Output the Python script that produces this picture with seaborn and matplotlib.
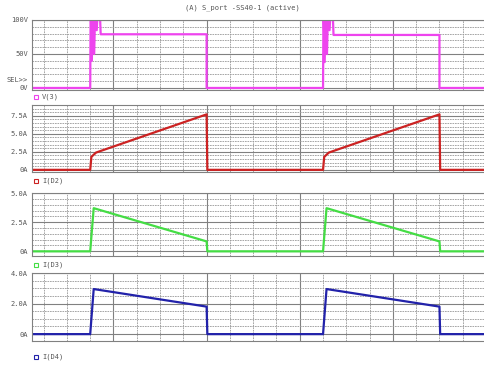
import numpy as np
import pandas as pd
import seaborn as sns
import matplotlib.pyplot as plt
from matplotlib.lines import Line2D

# time axis in grid divisions (1 division = 1 minor grid step)
t_v3 = [0.5, 3.0, 3.02, 3.07, 3.12, 3.17, 3.22, 3.28, 3.34, 3.4, 3.45, 8.0, 8.0,
        13.0, 13.02, 13.07, 13.12, 13.17, 13.22, 13.28, 13.34, 13.4, 13.45, 18.0, 18.0, 20.6]
v3 = [0, 0, 125, 40, 125, 50, 125, 85, 125, 125, 79, 79, 0,
      0, 125, 38, 125, 50, 125, 85, 125, 125, 78, 78, 0, 0]

t_d2 = [0.5, 3.0, 3.05, 3.25, 8.0, 8.03, 13.0, 13.05, 13.25, 18.0, 18.03, 20.6]
i_d2 = [0, 0, 1.8, 2.4, 7.7, 0, 0, 1.8, 2.4, 7.7, 0, 0]

t_d3 = [0.5, 3.0, 3.15, 8.0, 8.03, 13.0, 13.15, 18.0, 18.03, 20.6]
i_d3 = [0, 0, 3.7, 0.85, 0, 0, 3.7, 0.85, 0, 0]

t_d4 = [0.5, 3.0, 3.15, 8.0, 8.03, 13.0, 13.15, 18.0, 18.03, 20.6]
i_d4 = [0, 0, 2.95, 1.8, 0, 0, 2.95, 1.8, 0, 0]

names = ['V(3)', 'I(D2)', 'I(D3)', 'I(D4)']
colors = ['#ee44ee', '#cc2222', '#44dd44', '#2222aa']
yticks = [[0, 12.5, 50, 100], [0, 2.5, 5.0, 7.5], [0, 2.5, 5.0], [0, 2.0, 4.0]]
ylabels = [['0V', 'SEL>>', '50V', '100V'], ['0A', '2.5A', '5.0A', '7.5A'],
           ['0A', '2.5A', '5.0A'], ['0A', '2.0A', '4.0A']]
ylims = [(-3, 100), (-0.3, 9.0), (-0.4, 5.0), (-0.45, 4.0)]
yminor = [np.arange(10, 100, 10), np.arange(0.5, 9.01, 0.5),
          np.arange(0.5, 5.0, 0.5), np.arange(0.5, 4.0, 0.5)]
ymajor_grid = [[0, 50, 100], [0, 2.5, 5.0, 7.5], [0, 2.5, 5.0], [0, 2.0, 4.0]]

# panel boxes in pixels: (top, bottom)
W, H = 484, 365
boxes = [(20, 90), (105, 172), (193, 256), (273, 341)]
legend_y = [97, 181, 265, 357]
x0, x1 = 32, 500

sns.set_style('white')
plt.rcParams['font.family'] = ['DejaVu Sans Mono', 'DejaVu Sans']

fig = plt.figure(figsize=(W / 100, H / 100), dpi=100)

data = [(t_v3, v3), (t_d2, i_d2), (t_d3, i_d3), (t_d4, i_d4)]
for k, (tt, yy) in enumerate(data):
    top, bot = boxes[k]
    ax = fig.add_axes([x0 / W, 1 - bot / H, (x1 - x0) / W, (bot - top) / H])
    ax.set_xlim(0.5, 20.6)
    ax.set_ylim(*ylims[k])
    ax.set_xticks([4, 8, 12, 16, 20])
    ax.set_xticks(np.arange(1, 21), minor=True)
    ax.set_xticklabels([])
    ax.set_yticks(yticks[k])
    ax.set_yticklabels(ylabels[k])
    ax.set_yticks(yminor[k], minor=True)
    ax.tick_params(axis='x', which='both', length=0)
    ax.tick_params(axis='y', which='major', length=2, width=0.6, color='#777777',
                   labelsize=5, labelcolor='#555555', pad=1)
    ax.tick_params(axis='y', which='minor', length=0)
    ax.grid(False)
    for xv in np.arange(1, 21):
        if xv % 4 == 0:
            ax.axvline(xv, color='#808080', lw=0.8, zorder=0)
        else:
            ax.axvline(xv, color='#999999', lw=0.6, ls=(0, (2, 1)), zorder=0)
    for yv in yminor[k]:
        if not np.any(np.isclose(yv, ymajor_grid[k])):
            ax.axhline(yv, color='#999999', lw=0.6, ls=(0, (2, 1)), zorder=0)
    for yv in ymajor_grid[k]:
        ax.axhline(yv, color='#808080', lw=0.8, zorder=0)
    for s in ax.spines.values():
        s.set_color('#808080')
        s.set_linewidth(0.8)
    df = pd.DataFrame({'t': tt, 'y': yy})
    sns.lineplot(data=df, x='t', y='y', ax=ax, color=colors[k], lw=1.6,
                 sort=False, estimator=None, legend=False)
    ax.set_xlabel('')
    ax.set_ylabel('')
    # legend marker and name
    ly = 1 - legend_y[k] / H
    fig.add_artist(Line2D([36 / W], [ly], marker='s', ms=3, mfc='none',
                          mec=colors[k], mew=0.8, transform=fig.transFigure))
    fig.text(42 / W, ly, names[k], fontsize=5, color='#555555', va='center')

fig.text(0.5, 1 - 8 / H, '(A) S_port -SS40-1 (active)', fontsize=5,
         color='#555555', ha='center', va='center')

plt.savefig('out.png', dpi=100)
